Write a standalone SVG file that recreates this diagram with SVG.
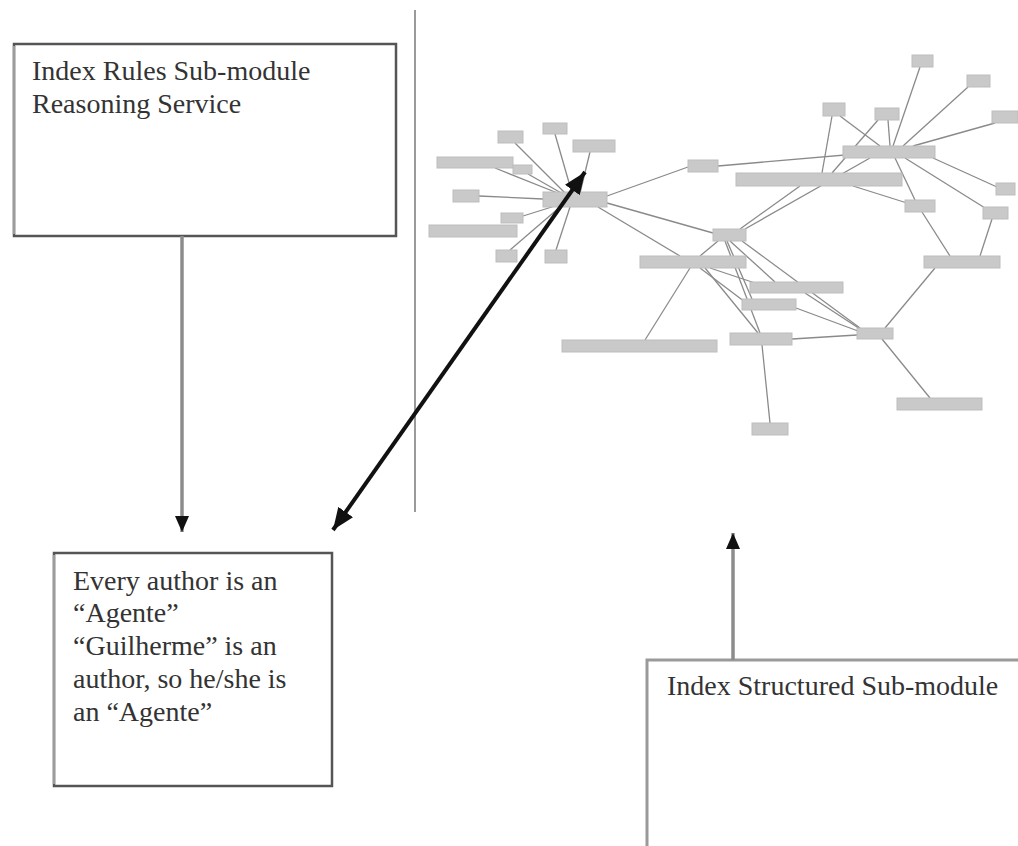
<svg xmlns="http://www.w3.org/2000/svg" width="1018" height="846" viewBox="0 0 1018 846">
<style>
.box{fill:#fff;stroke:#555;stroke-width:2.5}
.box3{fill:#fff;stroke:#9a9a9a;stroke-width:3}
.lside{stroke:#9c9c9c;stroke-width:2.5}
.t{font-family:"Liberation Serif","Times New Roman",serif;font-size:28px;fill:#333}
.n{fill:#c9c9c9;stroke:#bdbdbd;stroke-width:1}
.e{stroke:#8a8a8a;stroke-width:1.3;fill:none}
.ga{stroke:#8c8c8c;stroke-width:3.5;fill:none}
.ba{stroke:#111;stroke-width:4;fill:none}
</style>
<defs>
<marker id="hs" markerUnits="userSpaceOnUse" markerWidth="16" markerHeight="14" refX="16" refY="7" orient="auto"><path d="M0,0 L16,7 L0,14 z" fill="#111"/></marker>
<marker id="hb" markerUnits="userSpaceOnUse" markerWidth="22" markerHeight="18" refX="22" refY="9" orient="auto-start-reverse"><path d="M0,0 L22,9 L0,18 z" fill="#111"/></marker>
</defs>
<line x1="415" y1="10" x2="415" y2="512" stroke="#9a9a9a" stroke-width="2"/>
<g id="graph-edges">
<line class="e" x1="555" y1="134" x2="572" y2="193"/>
<line class="e" x1="515" y1="143" x2="566" y2="194"/>
<line class="e" x1="590" y1="152" x2="580" y2="193"/>
<line class="e" x1="495" y1="168" x2="560" y2="194"/>
<line class="e" x1="528" y1="174" x2="563" y2="194"/>
<line class="e" x1="479" y1="196" x2="543" y2="199"/>
<line class="e" x1="523" y1="216" x2="555" y2="206"/>
<line class="e" x1="510" y1="250" x2="560" y2="207"/>
<line class="e" x1="556" y1="250" x2="570" y2="207"/>
<line class="e" x1="607" y1="196" x2="688" y2="167"/>
<line class="e" x1="607" y1="203" x2="713" y2="233"/>
<line class="e" x1="598" y1="207" x2="680" y2="256"/>
<line class="e" x1="718" y1="166" x2="880" y2="152"/>
<line class="e" x1="893" y1="146" x2="920" y2="67"/>
<line class="e" x1="903" y1="146" x2="968" y2="87"/>
<line class="e" x1="913" y1="146" x2="995" y2="123"/>
<line class="e" x1="880" y1="146" x2="840" y2="116"/>
<line class="e" x1="890" y1="146" x2="888" y2="120"/>
<line class="e" x1="878" y1="120" x2="832" y2="173"/>
<line class="e" x1="832" y1="116" x2="822" y2="173"/>
<line class="e" x1="933" y1="158" x2="997" y2="187"/>
<line class="e" x1="905" y1="158" x2="985" y2="208"/>
<line class="e" x1="895" y1="158" x2="915" y2="200"/>
<line class="e" x1="853" y1="186" x2="907" y2="203"/>
<line class="e" x1="740" y1="229" x2="800" y2="186"/>
<line class="e" x1="745" y1="229" x2="870" y2="158"/>
<line class="e" x1="922" y1="212" x2="950" y2="256"/>
<line class="e" x1="992" y1="219" x2="980" y2="256"/>
<line class="e" x1="935" y1="268" x2="885" y2="328"/>
<line class="e" x1="882" y1="339" x2="930" y2="398"/>
<line class="e" x1="857" y1="335" x2="792" y2="339"/>
<line class="e" x1="858" y1="331" x2="796" y2="308"/>
<line class="e" x1="860" y1="329" x2="805" y2="293"/>
<line class="e" x1="860" y1="328" x2="742" y2="241"/>
<line class="e" x1="730" y1="241" x2="775" y2="282"/>
<line class="e" x1="727" y1="241" x2="752" y2="299"/>
<line class="e" x1="725" y1="241" x2="760" y2="333"/>
<line class="e" x1="690" y1="268" x2="645" y2="340"/>
<line class="e" x1="700" y1="268" x2="745" y2="302"/>
<line class="e" x1="705" y1="268" x2="758" y2="333"/>
<line class="e" x1="710" y1="268" x2="755" y2="283"/>
<line class="e" x1="700" y1="256" x2="718" y2="241"/>
<line class="e" x1="762" y1="345" x2="770" y2="423"/>
</g>
<g id="graph-nodes">
<rect class="n" x="543" y="123" width="24" height="11"/>
<rect class="n" x="498" y="131" width="25" height="12"/>
<rect class="n" x="573" y="140" width="42" height="12"/>
<rect class="n" x="437" y="157" width="76" height="11"/>
<rect class="n" x="513" y="165" width="19" height="9"/>
<rect class="n" x="453" y="190" width="26" height="12"/>
<rect class="n" x="543" y="192" width="64" height="15"/>
<rect class="n" x="501" y="213" width="22" height="10"/>
<rect class="n" x="429" y="225" width="88" height="12"/>
<rect class="n" x="496" y="250" width="21" height="12"/>
<rect class="n" x="545" y="250" width="22" height="13"/>
<rect class="n" x="688" y="160" width="30" height="12"/>
<rect class="n" x="713" y="229" width="33" height="12"/>
<rect class="n" x="640" y="256" width="106" height="12"/>
<rect class="n" x="750" y="282" width="93" height="11"/>
<rect class="n" x="742" y="299" width="54" height="11"/>
<rect class="n" x="730" y="333" width="62" height="12"/>
<rect class="n" x="562" y="340" width="155" height="12"/>
<rect class="n" x="752" y="423" width="36" height="12"/>
<rect class="n" x="857" y="328" width="36" height="11"/>
<rect class="n" x="897" y="398" width="85" height="12"/>
<rect class="n" x="912" y="55" width="21" height="12"/>
<rect class="n" x="967" y="75" width="23" height="12"/>
<rect class="n" x="992" y="111" width="26" height="12"/>
<rect class="n" x="823" y="103" width="22" height="13"/>
<rect class="n" x="875" y="108" width="24" height="12"/>
<rect class="n" x="843" y="146" width="92" height="12"/>
<rect class="n" x="736" y="173" width="166" height="13"/>
<rect class="n" x="996" y="183" width="19" height="12"/>
<rect class="n" x="983" y="207" width="25" height="12"/>
<rect class="n" x="905" y="200" width="30" height="12"/>
<rect class="n" x="924" y="256" width="76" height="12"/>
</g>
<g id="box-rules">
<rect class="box" x="14" y="44" width="382" height="192"/>
<line class="lside" x1="14" y1="46" x2="14" y2="234"/>
<text class="t" x="32" y="80">Index Rules Sub-module</text>
<text class="t" x="32" y="113">Reasoning Service</text>
</g>
<g id="box-example">
<rect class="box" x="54" y="553" width="278" height="233"/>
<line class="lside" x1="54" y1="555" x2="54" y2="784"/>
<text class="t" x="73" y="590">Every author is an</text>
<text class="t" x="73" y="622">“Agente”</text>
<text class="t" x="73" y="655">“Guilherme” is an</text>
<text class="t" x="73" y="688">author, so he/she is</text>
<text class="t" x="73" y="721">an “Agente”</text>
</g>
<g id="box-structured">
<rect class="box3" x="647" y="660" width="400" height="220"/>
<text class="t" x="667" y="695">Index Structured Sub-module</text>
</g>
<g id="connectors">
<line class="ga" x1="182" y1="236" x2="182" y2="532" marker-end="url(#hs)"/>
<line class="ga" x1="733" y1="660" x2="733" y2="533" marker-end="url(#hs)"/>
<line class="ba" x1="333" y1="530" x2="585" y2="172" marker-start="url(#hb)" marker-end="url(#hb)"/>
</g>
</svg>
